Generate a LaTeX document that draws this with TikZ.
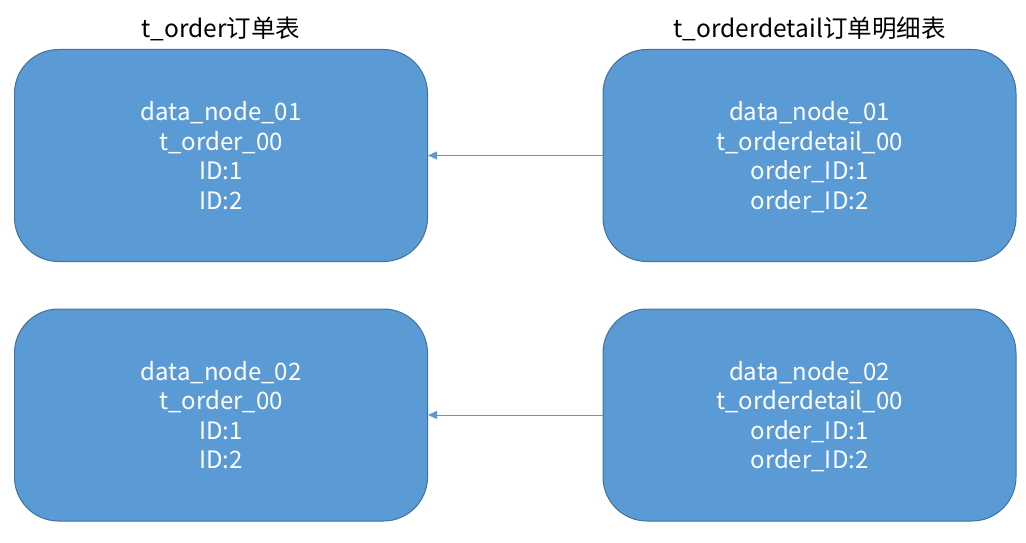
\documentclass[tikz,border=0pt]{standalone}
\usepackage{fontspec}
\setmainfont{Noto Sans CJK SC}
\usepackage{tikz}
\usetikzlibrary{positioning, arrows.meta}
\definecolor{boxblue}{HTML}{5B9BD5}
\definecolor{boxline}{HTML}{41719C}
\tikzset{x=1pt, y=-1pt,
shard/.style={draw=boxline, fill=boxblue, line width=1pt, rounded corners=44pt, minimum width=413pt, minimum height=212pt, text=white, align=center, font=\fontsize{24}{29.6}\selectfont, inner sep=0pt}, % one table shard
title/.style={font=\fontsize{24.5}{28}\selectfont, text=black}, % table name above a column
ref/.style={-{Triangle[length=9pt, width=8pt]}, draw=boxblue, line width=0.8pt}, % detail row points to order row
}
\begin{document}
\begin{tikzpicture}
\useasboundingbox (0,0) rectangle (1026,543);

\node[shard] (o1) at (221,155.5) {data\_node\_01\\t\_order\_00\\ID:1\\ID:2};
\node[shard] (d1) at (809.5,155.5) {data\_node\_01\\t\_orderdetail\_00\\order\_ID:1\\\smash{order\_ID:2}};
\node[shard] (o2) at (221,415) {data\_node\_02\\t\_order\_00\\ID:1\\ID:2};
\node[shard] (d2) at (809.5,415) {data\_node\_02\\t\_orderdetail\_00\\order\_ID:1\\\smash{order\_ID:2}};

\node[title, above=5pt of o1] (to) {t\_order订单表};
\node[title, above=5pt of d1] (td) {t\_orderdetail订单明细表};

\draw[ref] (d1.west) -- (o1.east);
\draw[ref] (d2.west) -- (o2.east);

\end{tikzpicture}
\end{document}
